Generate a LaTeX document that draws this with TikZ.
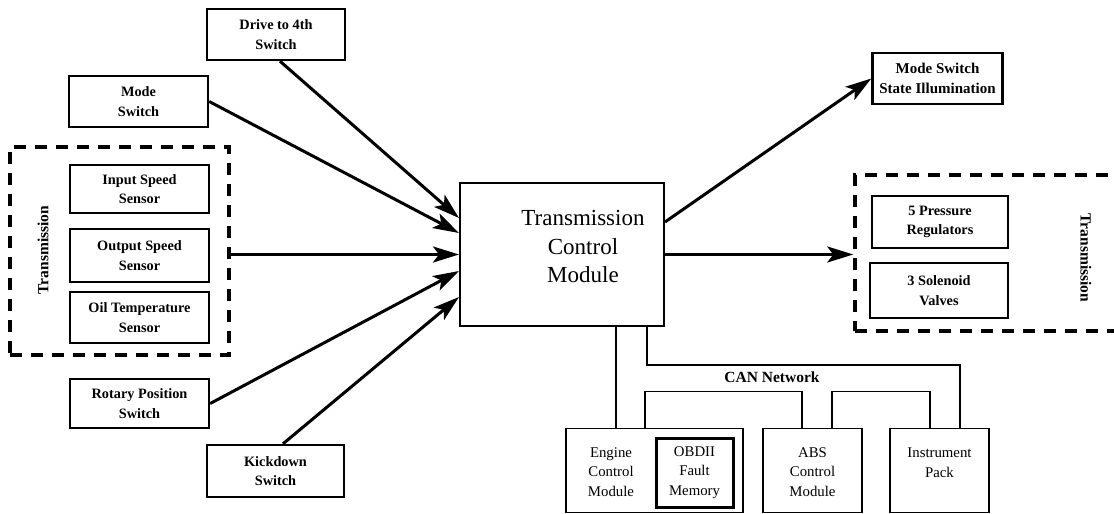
\documentclass[tikz,border=0pt]{standalone}
\usepackage{fontspec}
\setmainfont{Liberation Serif}
\usetikzlibrary{arrows.meta,calc}
\begin{document}
\begin{tikzpicture}[x=1pt,y=-1pt,
  box/.style={draw,line width=2.4pt,rectangle,align=center,inner sep=0pt,
    font=\fontsize{14.3}{19.5}\selectfont\bfseries},
  thinbox/.style={draw,line width=1.8pt,rectangle,align=center,inner sep=0pt},
  modtext/.style={align=center,inner sep=0pt,font=\fontsize{14.8}{19.5}\selectfont},
  dashbox/.style={draw,line width=3.5pt,dash pattern=on 12pt off 9pt,rectangle,inner sep=0pt},
  arr/.style={line width=3pt,-{Stealth[length=26pt,width=16pt,inset=6pt]}},
  bus/.style={line width=1.4pt},
  lbl/.style={font=\fontsize{15.5}{18}\selectfont\bfseries}]
\useasboundingbox (0,0) rectangle (1114,514);
\clip (0,0) rectangle (1114,514);
% dashed groups
\node[dashbox,minimum width=219pt,minimum height=208pt] (tbox) at (119.5,251) {};
\node[dashbox,minimum width=290pt,minimum height=156pt] (rbox) at (1000,253) {};
\node[lbl,rotate=90] (tlab) at (43,250) {Transmission};
\node[lbl,rotate=-90] (rlab) at (1086,258) {Transmission};
% input boxes
\node[box,minimum width=138pt,minimum height=51pt] (d4) at (276,34.5) {Drive to 4th\\Switch};
\node[box,minimum width=139pt,minimum height=51pt] (mode) at (138.5,101.5) {Mode\\Switch};
\node[box,minimum width=139pt,minimum height=48pt] (isp) at (139.5,189) {Input Speed\\Sensor};
\node[box,minimum width=139pt,minimum height=53pt] (osp) at (139.5,255.5) {Output Speed\\Sensor};
\node[box,minimum width=139pt,minimum height=51pt] (oil) at (139.5,317.5) {Oil Temperature\\Sensor};
\node[box,minimum width=139pt,minimum height=49pt] (rot) at (139.5,403.5) {Rotary Position\\Switch};
\node[box,minimum width=137pt,minimum height=52pt] (kick) at (275.5,471) {Kickdown\\Switch};
% TCM
\node[draw,line width=2pt,minimum width=204pt,minimum height=143pt] (tcm) at (562,254.5) {};
\node[align=center,inner sep=0pt,font=\fontsize{23}{28.5}\selectfont] (tcmt) at (583,246.5) {Transmission\\Control\\Module};
% outputs
\node[box,minimum width=130pt,minimum height=51pt,font=\fontsize{15}{19.5}\selectfont\bfseries] (msi) at (937.5,78.5) {Mode Switch\\State Illumination};
\node[box,minimum width=136pt,minimum height=52pt] (pr) at (940,222) {5 Pressure\\Regulators};
\node[box,minimum width=138pt,minimum height=55pt] (sol) at (939,290.5) {3 Solenoid\\Valves};
% bottom modules
\node[thinbox,minimum width=177pt,minimum height=84pt] (ecm) at (654.5,470.5) {};
\node[modtext] (ecmt) at (611,472) {Engine\\Control\\Module};
\node[thinbox,line width=3pt,minimum width=77pt,minimum height=69pt,font=\fontsize{14.8}{19.5}\selectfont] (obd) at (694.5,472.5) {OBDII\\Fault\\Memory};
\node[thinbox,minimum width=99pt,minimum height=84pt] (abs) at (812.5,470.5) {};
\node[modtext] (abst) at (812.5,472) {ABS\\Control\\Module};
\node[thinbox,minimum width=99pt,minimum height=84pt] (ip) at (939.5,470.5) {};
\node[modtext] (ipt) at (939.5,462.5) {Instrument\\Pack};
\node[lbl] (can) at (772,377) {CAN Network};
% arrows into TCM
\draw[arr] ($(d4.south)+(4,0)$) -- ($(tcm.west)+(0,-36.5)$);
\draw[arr] (mode.east) -- ($(tcm.west)+(0,-21.5)$);
\draw[arr] (tbox.east |- tcm.west) -- (tcm.west);
\draw[arr] (rot.east) -- ($(tcm.west)+(0,16.5)$);
\draw[arr] ($(kick.north)+(7.5,0)$) -- ($(tcm.west)+(0,42.5)$);
% arrows out of TCM
\draw[arr] ($(tcm.east)+(0,-32.5)$) -- (msi.west);
\draw[arr] (tcm.east) -- (tcm.east -| rbox.west);
% CAN bus lines
\coordinate (b1) at ($(tcm.south)+(54,0)$);
\coordinate (b2) at ($(tcm.south)+(85,0)$);
\coordinate (e1) at ($(ecm.north)+(-9.5,0)$);
\coordinate (a1) at ($(abs.north)+(-10.5,0)$);
\coordinate (a2) at ($(abs.north)+(19.5,0)$);
\coordinate (i1) at ($(ip.north)+(-9.5,0)$);
\coordinate (i2) at ($(ip.north)+(20.5,0)$);
\draw[bus] (b1) -- (b1 |- ecm.north);
\draw[bus] (b2) -- ++(0,38) -| (i2);
\draw[bus] (e1) -- ++(0,-36) -| (a1);
\draw[bus] (a2) -- ++(0,-36) -| (i1);
\end{tikzpicture}
\end{document}
